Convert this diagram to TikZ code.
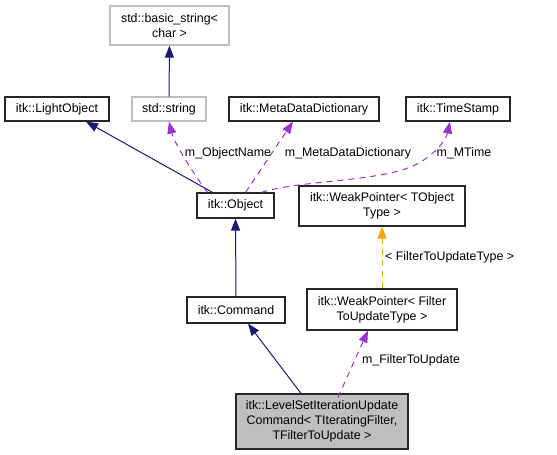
\documentclass[tikz,border=0pt]{standalone}
\usepackage{fontspec}
\setmainfont{Liberation Sans}
\usetikzlibrary{arrows.meta,calc}
\definecolor{navyc}{HTML}{191970}
\definecolor{purpc}{HTML}{9A32CD}
\definecolor{orangec}{HTML}{FFA500}
\definecolor{grayb}{HTML}{BFBFBF}
\tikzset{
  cls/.style={draw=black!85, line width=1.2pt, fill=white, inner sep=0pt, align=center,
    font=\fontsize{12.4}{15}\selectfont},
  ext/.style={cls, draw=grayb},
  inh/.style={draw=navyc, line width=1pt, -{Triangle[length=12pt,width=9pt]}},
  use/.style={draw=purpc, line width=1pt, dash pattern=on 6pt off 5pt, -{Triangle[length=12pt,width=9pt]}},
  tmpl/.style={draw=orangec, line width=1pt, dash pattern=on 6pt off 5pt, -{Triangle[length=12pt,width=9pt]}},
  lbl/.style={inner sep=0pt, font=\fontsize{12.4}{15}\selectfont}
}
\begin{document}
\begin{tikzpicture}[x=1pt,y=-1pt]
\useasboundingbox (0,0) rectangle (557,455);
\node[ext, minimum width=119pt, minimum height=39pt] (bs) at (169.5,25.5) {std::basic\_string\textless\\char \textgreater};
\node[cls, minimum width=104pt, minimum height=24pt] (lo) at (57,109) {itk::LightObject};
\node[ext, minimum width=74pt, minimum height=24pt] (ss) at (169,109) {std::string};
\node[cls, minimum width=150pt, minimum height=24pt] (mdd) at (304,109) {itk::MetaDataDictionary};
\node[cls, minimum width=104pt, minimum height=24pt] (ts) at (458,109) {itk::TimeStamp};
\node[cls, minimum width=77pt, minimum height=25pt] (obj) at (235.5,205.5) {itk::Object};
\node[cls, minimum width=166pt, minimum height=40pt] (wpt) at (382,206) {itk::WeakPointer\textless{} TObject\\Type \textgreater};
\node[cls, minimum width=98pt, minimum height=26pt] (cmd) at (236,310) {itk::Command};
\node[cls, minimum width=150pt, minimum height=41pt] (wpf) at (382,309.5) {itk::WeakPointer\textless{} Filter\\ToUpdateType \textgreater};
\node[cls, fill=grayb, minimum width=172pt, minimum height=55pt] (ls) at (322,421.5) {itk::LevelSetIterationUpdate\\Command\textless{} TIteratingFilter,\\TFilterToUpdate \textgreater};

\draw[inh] (ss.north) -- (bs.south);
\draw[inh] ([xshift=-23pt]obj.north) -- ([xshift=29pt]lo.south);
\draw[use] ([xshift=-28pt]obj.north) .. controls (192,172) and (174,142) .. (ss.south);
\node[lbl] (l1) at (228,153) {m\_ObjectName};
\draw[use] ([xshift=10pt]obj.north) -- ([xshift=-11pt]mdd.south);
\node[lbl] (l2) at (348,153) {m\_MetaDataDictionary};
\draw[use] ([xshift=26pt]obj.north) .. controls (300,180) and (380,182) .. (415,165) .. controls (435,155) and (446,140) .. ([xshift=-8pt]ts.south);
\node[lbl] (l3) at (464,153) {m\_MTime};
\draw[inh] (cmd.north) -- (obj.south);
\draw[inh] ([xshift=-21pt]ls.north) -- ([xshift=12pt]cmd.south);
\draw[use] ([xshift=16pt,yshift=-4pt]ls.north) -- ([xshift=-14pt]wpf.south);
\node[lbl] (l4) at (411,360) {m\_FilterToUpdate};
\draw[tmpl] (wpf.north) -- (wpt.south);
\node[lbl, anchor=west] (l5) at (385,257) {\textless{} FilterToUpdateType \textgreater};
\end{tikzpicture}
\end{document}
